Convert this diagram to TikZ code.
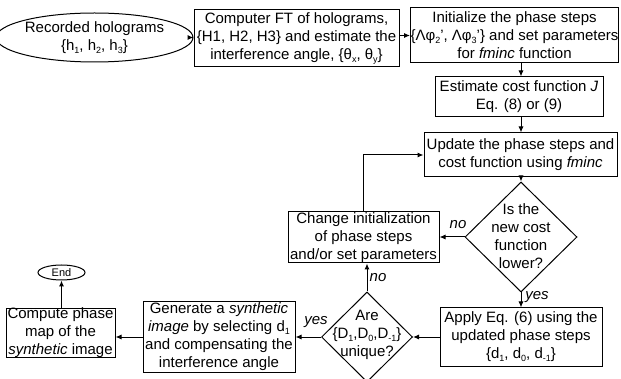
\documentclass[tikz,border=0pt]{standalone}
\usepackage{fontspec}
\setmainfont{Liberation Sans}
\usetikzlibrary{shapes.geometric,arrows.meta}
\newcommand\sbx[1]{\raisebox{-0.35ex}{\fontsize{9}{9}\selectfont #1}}
\begin{document}
\begin{tikzpicture}[x=1pt,y=-1pt,
  box/.style={draw, rectangle, line width=1pt, inner sep=0pt, align=center, font=\fontsize{15}{18}\selectfont},
  dia/.style={draw, diamond, line width=1pt, inner sep=0pt},
  txt/.style={align=center, inner sep=0pt, font=\fontsize{15}{18}\selectfont},
  lab/.style={inner sep=0pt, font=\fontsize{15}{18}\selectfont\itshape},
  arr/.style={line width=1pt, -{Latex[length=6pt,width=5pt]}}]
\useasboundingbox (0,0) rectangle (621,379);
\fill[white] (0,0) rectangle (621,379);

\node[box, ellipse, minimum width=165pt, minimum height=49pt] (rec) at (94.5,37.5) {Recorded holograms\\\{h\sbx{1}, h\sbx{2}, h\sbx{3}\}};
\node[box, minimum width=205pt, minimum height=57pt] (ft) at (296.5,38.5) {Computer FT of holograms,\\\{H1, H2, H3\} and estimate the\\interference angle, \{θ\sbx{x}, θ\sbx{y}\}};
\node[box, minimum width=197pt, minimum height=55pt] (init) at (514.5,35.5) {Initialize the phase steps\\\{Λφ\sbx{2}', Λφ\sbx{3}'\} and set parameters\\for \textit{fminc} function};
\node[box, minimum width=168pt, minimum height=40pt] (est) at (519,97) {Estimate cost function \textit{J}\\Eq. (8) or (9)};
\node[box, minimum width=193pt, minimum height=44pt] (upd) at (520.5,155) {Update the phase steps and\\cost function using \textit{fminc}};
\node[dia, minimum width=112pt, minimum height=110pt] (d1) at (521,237) {};
\node[txt] (d1t) at (521,236) {Is the\\new cost\\function\\lower?};
\node[box, minimum width=151pt, minimum height=51pt] (chg) at (363.5,237.5) {Change initialization\\of phase steps\\and/or set parameters};
\node[box, minimum width=162pt, minimum height=58pt] (app) at (521,337) {Apply Eq. (6) using the\\updated phase steps\\\{d\sbx{1}, d\sbx{0}, d\sbx{-1}\}};
\node[dia, minimum width=91pt, minimum height=90pt] (d2) at (367,337) {};
\node[txt] (d2t) at (367,335) {Are\\\{D\sbx{1},D\sbx{0},D\sbx{-1}\}\\unique?};
\node[box, minimum width=152pt, minimum height=70pt] (gen) at (219,337) {Generate a \textit{synthetic}\\\textit{image} by selecting d\sbx{1}\\and compensating the\\interference angle};
\node[box, minimum width=109pt, minimum height=48pt] (comp) at (60.5,333) {Compute phase\\map of the\\\textit{synthetic} image};
\node[box, ellipse, minimum width=47pt, minimum height=15pt, font=\fontsize{11}{12}\selectfont] (end) at (61.5,272.5) {End};

\node[lab] (no1) at (458,225) {no};
\node[lab] (yes1) at (537,297) {yes};
\node[lab] (no2) at (378,278) {no};
\node[lab] (yes2) at (316,322) {yes};

\draw[arr] (rec.east) -- (rec.east -| ft.west);
\draw[arr] (init.west -| ft.east) -- (init.west);
\draw[arr] (init.south -| d1.north) -- (est.north -| d1.north);
\draw[arr] (est.south -| d1.north) -- (upd.north -| d1.north);
\draw[arr] (upd.south -| d1.north) -- (d1.north);
\draw[arr] (d1.west) -- (d1.west -| chg.east);
\draw[arr] (chg.north) |- (upd.west);
\draw[arr] (d1.south) -- (app.north);
\draw[arr] (app.west) -- (app.west -| d2.east);
\draw[arr] (d2.north) -- (d2.north |- chg.south);
\draw[arr] (d2.west) -- (d2.west -| gen.east);
\draw[arr] (gen.west) -- (gen.west -| comp.east);
\draw[arr] (end.south |- comp.north) -- (end.south);
\end{tikzpicture}
\end{document}
